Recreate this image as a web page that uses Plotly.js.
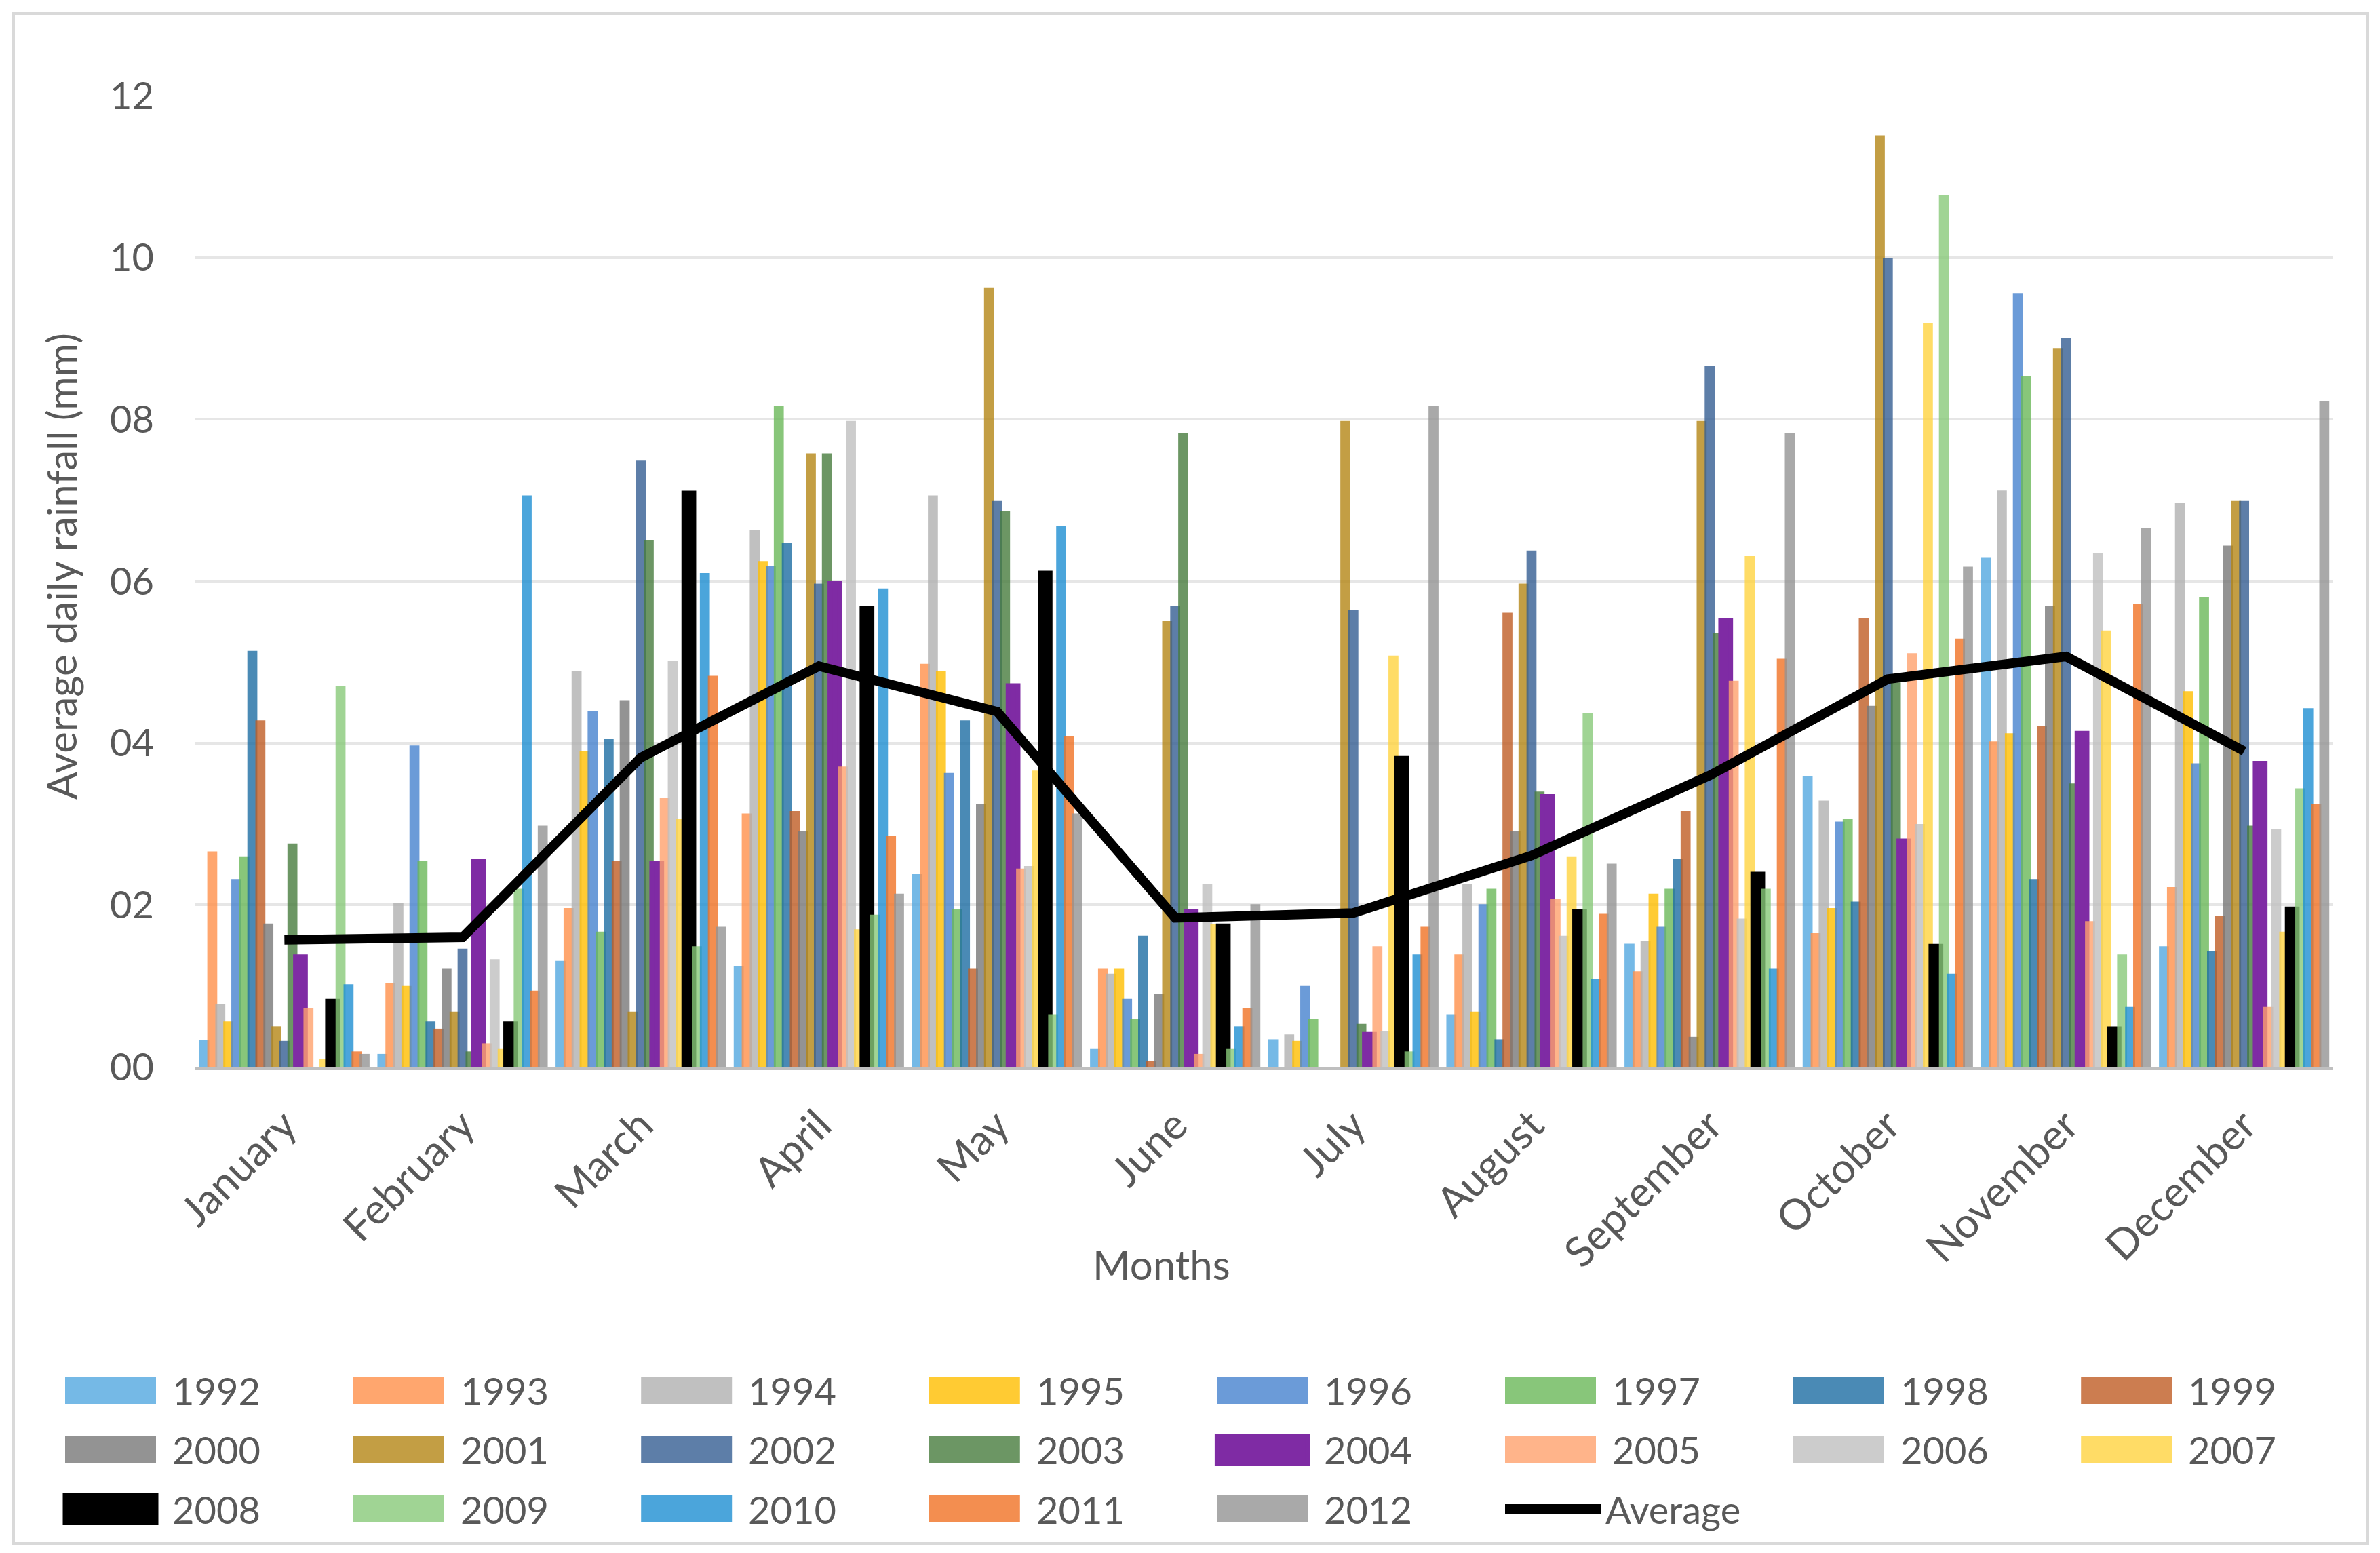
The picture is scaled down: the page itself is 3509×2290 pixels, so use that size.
<!DOCTYPE html>
<html>
<head>
<meta charset="utf-8">
<script src="https://cdn.plot.ly/plotly-3.0.1.min.js"></script>
<style>
html,body{margin:0;padding:0;background:#ffffff;}
#chart{width:3509px;height:2290px;}
#frame{position:absolute;left:18px;top:18px;width:3467px;height:2252px;border:4px solid #D9D9D9;pointer-events:none;}
</style>
</head>
<body>
<div id="chart"></div>
<div id="frame"></div>
<script>
// ---------------- DATA ----------------
const months = ['January','February','March','April','May','June','July','August','September','October','November','December'];
const years = ['1992','1993','1994','1995','1996','1997','1998','1999','2000','2001','2002','2003','2004','2005','2006','2007','2008','2009','2010','2011','2012'];

const y1992 = [0.33, 0.16, 1.31, 1.24, 2.38, 0.22, 0.34, 0.65, 1.52, 3.59, 6.29, 1.49];
const y1993 = [2.66, 1.03, 1.96, 3.13, 4.98, 1.21, 0.00, 1.39, 1.18, 1.65, 4.02, 2.22];
const y1994 = [0.78, 2.02, 4.89, 6.63, 7.06, 1.15, 0.40, 2.26, 1.55, 3.29, 7.12, 6.97];
const y1995 = [0.56, 1.00, 3.90, 6.25, 4.89, 1.21, 0.32, 0.68, 2.14, 1.96, 4.12, 4.64];
const y1996 = [2.32, 3.97, 4.40, 6.19, 3.63, 0.84, 1.00, 2.01, 1.73, 3.03, 9.56, 3.75];
const y1997 = [2.60, 2.54, 1.67, 8.17, 1.95, 0.59, 0.59, 2.20, 2.20, 3.06, 8.54, 5.80];
const y1998 = [5.14, 0.56, 4.05, 6.47, 4.28, 1.62, 0.00, 0.34, 2.57, 2.04, 2.32, 1.43];
const y1999 = [4.28, 0.47, 2.54, 3.16, 1.21, 0.07, 0.00, 5.61, 3.16, 5.54, 4.21, 1.86];
const y2000 = [1.77, 1.21, 4.53, 2.91, 3.25, 0.90, 0.00, 2.91, 0.37, 4.46, 5.69, 6.44];
const y2001 = [0.50, 0.68, 0.68, 7.58, 9.63, 5.51, 7.98, 5.97, 7.98, 11.51, 8.88, 6.99];
const y2002 = [0.32, 1.46, 7.49, 5.97, 6.99, 5.69, 5.64, 6.38, 8.66, 9.99, 9.00, 6.99];
const y2003 = [2.76, 0.19, 6.51, 7.58, 6.87, 7.83, 0.53, 3.40, 5.36, 4.75, 3.50, 2.98];
const y2004 = [1.36, 2.54, 2.51, 5.97, 4.71, 1.92, 0.40, 3.34, 5.51, 2.79, 4.12, 3.75];
const y2005 = [0.72, 0.29, 3.32, 3.71, 2.45, 0.16, 1.49, 2.07, 4.77, 5.11, 1.80, 0.74];
const y2006 = [0.00, 1.33, 5.02, 7.98, 2.48, 2.26, 0.44, 1.62, 1.83, 3.00, 6.35, 2.94];
const y2007 = [0.10, 0.22, 3.06, 1.70, 3.66, 1.76, 5.08, 2.60, 6.31, 9.19, 5.39, 1.67];
const y2008 = [0.81, 0.53, 7.09, 5.66, 6.10, 1.74, 3.81, 1.92, 2.38, 1.49, 0.47, 1.95];
const y2009 = [4.71, 2.20, 1.49, 1.88, 0.65, 0.22, 0.19, 4.37, 2.20, 10.77, 1.39, 3.44];
const y2010 = [1.02, 7.06, 6.10, 5.91, 6.68, 0.50, 1.39, 1.08, 1.21, 1.15, 0.74, 4.43];
const y2011 = [0.19, 0.94, 4.83, 2.85, 4.09, 0.72, 1.73, 1.89, 5.04, 5.29, 5.72, 3.25];
const y2012 = [0.16, 2.98, 1.73, 2.14, 3.13, 2.01, 8.17, 2.51, 7.83, 6.18, 6.66, 8.23];
const average = [1.57, 1.60, 3.82, 4.95, 4.39, 1.84, 1.90, 2.61, 3.60, 4.79, 5.07, 3.90];

const yTickVals = [0, 2, 4, 6, 8, 10, 12];
const yTickText = ['00', '02', '04', '06', '08', '10', '12'];

const series = [y1992,y1993,y1994,y1995,y1996,y1997,y1998,y1999,y2000,y2001,y2002,y2003,y2004,y2005,y2006,y2007,y2008,y2009,y2010,y2011,y2012];

// ---------------- STYLE ----------------
const colors = ['#52A8E0','#FF904A','#B0B0B0','#FFBE00','#4682CE','#6AB859','#1D6DA3','#BF5D24','#787878','#B48615',
                '#345E92','#477C3D','#7F2BA4','#FFA16D','#BFBFBF','#FFD340','#000000','#88C979','#1E8ED2','#F07224','#949494'];
const opac = years.map(y => (y === '2004' || y === '2008') ? 1 : 0.8);
const borderW = years.map(y => (y === '2004' || y === '2008') ? 7 : 0);

const FONT = 'Lato, "Open Sans", sans-serif';
const TXT = '#595959';

// plot area in pixels
const L = 288, R = 3440, T = 141, B = 1573;
const W = R - L, H = B - T;
const px = x => (x - L) / W;
const py = y => (B - y) / H;

const step = 0.045, bw = 0.056;
const n = years.length;
const start = -((n - 1) * step + bw) / 2;

const traces = series.map((vals, i) => ({
  type: 'bar',
  name: years[i],
  x: months,
  y: vals,
  width: bw,
  offset: start + i * step,
  opacity: opac[i],
  marker: { color: colors[i], line: { color: colors[i], width: borderW[i] } },
  showlegend: false,
  hoverinfo: 'skip'
}));

traces.push({
  type: 'scatter',
  mode: 'lines',
  name: 'Average',
  x: months,
  y: average,
  line: { color: '#000000', width: 14 },
  showlegend: false,
  hoverinfo: 'skip'
});

// ---------------- LEGEND (manual, built from series names/colours) ----------------
const shapes = [];
const annotations = [];
const colW = 424.6, sx0 = 96, sw = 134, sh = 40, rowY0 = 2050, rowH = 87.5;
const legendNames = years.concat(['Average']);
legendNames.forEach((name, i) => {
  const col = i % 8, row = Math.floor(i / 8);
  const x0 = sx0 + col * colW;
  const yc = rowY0 + row * rowH;
  if (name === 'Average') {
    shapes.push({ type: 'line', xref: 'paper', yref: 'paper', x0: px(x0), x1: px(x0 + 142), y0: py(yc), y1: py(yc),
      line: { color: '#000000', width: 14 } });
    annotations.push({ xref: 'paper', yref: 'paper', x: px(x0 + 146), y: py(yc), xanchor: 'left', yanchor: 'middle',
      text: name, showarrow: false, font: { family: FONT, size: 56, color: TXT } });
  } else {
    shapes.push({ type: 'rect', xref: 'paper', yref: 'paper', x0: px(x0), x1: px(x0 + sw), y0: py(yc + sh / 2), y1: py(yc - sh / 2),
      fillcolor: colors[i], opacity: opac[i], line: { color: colors[i], width: borderW[i] } });
    annotations.push({ xref: 'paper', yref: 'paper', x: px(x0 + sw + 22), y: py(yc), xanchor: 'left', yanchor: 'middle',
      text: name, showarrow: false, font: { family: FONT, size: 56, color: TXT } });
  }
});

// axis titles
annotations.push({ xref: 'paper', yref: 'paper', x: px(1712), y: py(1864), xanchor: 'center', yanchor: 'middle',
  text: 'Months', showarrow: false, font: { family: FONT, size: 60, color: TXT } });
annotations.push({ xref: 'paper', yref: 'paper', x: px(90), y: py(835), xanchor: 'center', yanchor: 'middle',
  text: 'Average daily rainfall (mm)', textangle: -90, showarrow: false, font: { family: FONT, size: 60, color: TXT } });

const layout = {
  width: 3509, height: 2290,
  margin: { l: L, r: 3509 - R, t: T, b: 2290 - B, pad: 0 },
  paper_bgcolor: '#ffffff', plot_bgcolor: '#ffffff',
  barmode: 'overlay',
  showlegend: false,
  font: { family: FONT, color: TXT },
  xaxis: {
    type: 'category',
    range: [-0.5, 11.5],
    showgrid: false,
    showline: true, linecolor: '#BFBFBF', linewidth: 5,
    ticks: '',
    tickangle: -45,
    tickfont: { family: FONT, size: 62, color: TXT },
    ticklabelstandoff: 20,
    zeroline: false,
    fixedrange: true
  },
  yaxis: {
    range: [0, 12],
    tickvals: yTickVals, ticktext: yTickText,
    showgrid: true, gridcolor: '#E6E6E6', gridwidth: 4,
    zeroline: false, showline: false,
    ticks: '',
    tickfont: { family: FONT, size: 56, color: TXT },
    ticklabelstandoff: 60,
    fixedrange: true
  },
  shapes: shapes,
  annotations: annotations
};

Plotly.newPlot('chart', traces, layout, { staticPlot: true, displayModeBar: false });
</script>
</body>
</html>
